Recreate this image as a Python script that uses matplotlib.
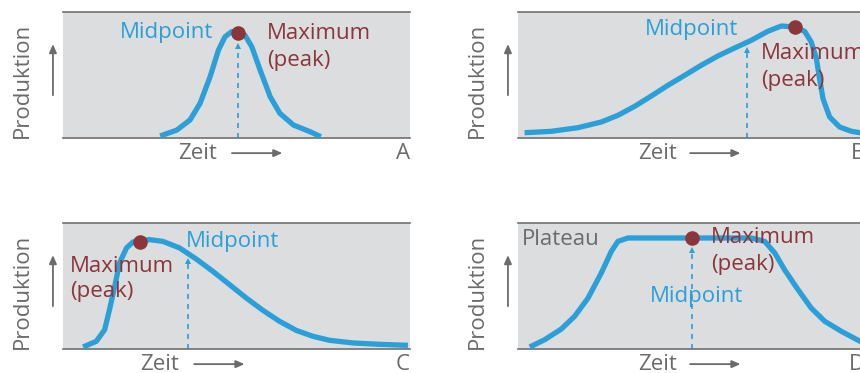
import matplotlib
matplotlib.use("Agg")
import matplotlib.pyplot as plt

plt.rcParams["font.family"] = ["Open Sans", "DejaVu Sans"]

BLUE = "#2a9fd8"
RED = "#8a363b"
GRAY = "#6b6b6b"
BG = "#dcdddf"

# curves (Zeit 0..100, Produktion 0..100)
a_x = [28.0, 32.8, 36.6, 39.5, 42.4, 44.8, 46.7, 48.6, 50.5, 52.4, 54.4, 56.8,
       59.7, 62.5, 66.4, 71.2, 74.3]
a_y = [1.6, 6.3, 14.3, 27.5, 48.7, 69.8, 80.4, 84.4, 84.2, 81.7, 72.5, 54.0,
       32.8, 19.6, 10.3, 5.0, 1.0]

b_x = [1.9, 9.6, 17.3, 24.0, 28.8, 33.6, 38.4, 43.2, 48.0, 52.8, 57.6, 62.4,
       67.2, 72.0, 75.9, 79.7, 82.6, 84.5, 86.0, 86.9, 87.9, 89.8, 92.7, 96.1,
       98.6, 100]
b_y = [4.2, 5.3, 8.2, 12.7, 18.0, 25.1, 33.3, 41.8, 49.7, 57.7, 65.1, 71.4,
       77.5, 84.7, 88.9, 88.1, 84.7, 76.2, 63.0, 47.1, 31.2, 16.7, 8.7, 5.3,
       4.2, 4.2]

c_x = [5.8, 9.6, 12.0, 13.4, 14.9, 16.3, 18.3, 20.2, 22.1, 25.0, 28.8, 33.6,
       38.4, 43.2, 48.0, 52.8, 57.6, 62.4, 67.2, 72.0, 76.8, 83.6, 91.3, 99.4]
c_y = [1.6, 6.1, 15.3, 31.2, 49.7, 68.3, 80.2, 85.0, 86.0, 86.8, 85.4, 80.2,
       71.4, 61.6, 51.1, 40.5, 30.7, 22.0, 14.8, 10.1, 6.9, 4.8, 3.7, 2.9]

d_x = [3.4, 7.7, 12.5, 16.3, 20.2, 24.0, 26.9, 28.8, 31.7, 38.4, 50.0, 67.2,
       71.1, 74.0, 76.8, 80.7, 84.5, 88.4, 93.2, 98.6, 100]
d_y = [1.6, 7.4, 15.9, 25.9, 40.5, 60.3, 77.5, 85.4, 88.1, 88.1, 88.1, 88.1,
       85.4, 76.2, 63.0, 47.1, 32.5, 22.0, 14.0, 6.1, 5.3]

# maximum (peak) points and midpoint arrows (x, tip height)
peaks = {"A": (50.5, 83.1), "B": (79.7, 88.1), "C": (22.1, 84.7), "D": (50.0, 88.1)}
midpoints = {"A": (50.5, 74.5), "B": (66.1, 71.0), "C": (36.0, 71.0), "D": (50.1, 80.0)}

W, H = 860, 373
fig = plt.figure(figsize=(W / 100, H / 100), dpi=100)


def box(left, top):
    return [left / W, 1 - (top + 126) / H, 347 / W, 126 / H]


def panel(rect, xs, ys, letter, zeit_x, arrow_x0):
    ax = fig.add_axes(rect)
    ax.set_facecolor(BG)
    ax.set_xlim(0, 100)
    ax.set_ylim(0, 100)
    ax.set_xticks([])
    ax.set_yticks([])
    for s in ("left", "right"):
        ax.spines[s].set_visible(False)
    for s in ("top", "bottom"):
        ax.spines[s].set_color("#707070")
        ax.spines[s].set_linewidth(1.2)

    ax.plot(xs, ys, color=BLUE, lw=3.8, solid_capstyle="butt",
            solid_joinstyle="round", zorder=3)

    mx, my = midpoints[letter]
    ax.plot([mx, mx], [0, my - 2.5], color=BLUE, lw=1.2, ls=(0, (3, 3)), zorder=2)
    ax.plot([mx], [my - 1.5], marker="^", color=BLUE, ms=5, mew=0, zorder=2)

    px, py = peaks[letter]
    ax.plot([px], [py], "o", color=RED, ms=10.5, mew=0, zorder=4)

    kw = dict(transform=ax.transAxes, color=GRAY, fontsize=16, clip_on=False)
    ax.text(-0.117, 0.0, "Produktion", rotation=90, ha="center", va="bottom", **kw)
    ax.annotate("", xy=(-0.029, 0.745), xytext=(-0.029, 0.34),
                xycoords="axes fraction",
                arrowprops=dict(arrowstyle="-|>,head_length=0.5,head_width=0.22",
                                color=GRAY, lw=1.3, shrinkA=0, shrinkB=0))
    ax.text(zeit_x, -0.12, "Zeit", ha="left", va="center", **kw)
    ax.annotate("", xy=(arrow_x0 + 0.145, -0.12), xytext=(arrow_x0, -0.12),
                xycoords="axes fraction",
                arrowprops=dict(arrowstyle="-|>,head_length=0.5,head_width=0.22",
                                color=GRAY, lw=1.3, shrinkA=0, shrinkB=0))
    ax.text(1.0, -0.12, letter, ha="right", va="center", **kw)
    return ax


tk = dict(fontsize=16, va="center", zorder=5)

ax = panel(box(63, 12), a_x, a_y, "A", 0.331, 0.487)
ax.text(43.2, 84.0, "Midpoint", color=BLUE, ha="right", **tk)
ax.text(58.8, 83.3, "Maximum", color=RED, ha="left", **tk)
ax.text(58.8, 61.5, "(peak)", color=RED, ha="left", **tk)

ax = panel(box(518, 12), b_x, b_y, "B", 0.346, 0.496)
ax.text(63.4, 86.2, "Midpoint", color=BLUE, ha="right", **tk)
ax.text(70.1, 66.9, "Maximum", color=RED, ha="left", **tk)
ax.text(70.1, 45.5, "(peak)", color=RED, ha="left", **tk)

ax = panel(box(63, 223), c_x, c_y, "C", 0.222, 0.378)
ax.text(35.5, 85.4, "Midpoint", color=BLUE, ha="left", **tk)
ax.text(2.1, 65.6, "Maximum", color=RED, ha="left", **tk)
ax.text(2.1, 45.5, "(peak)", color=RED, ha="left", **tk)

ax = panel(box(518, 223), d_x, d_y, "D", 0.346, 0.496)
ax.text(1.0, 86.8, "Plateau", color=GRAY, ha="left", **tk)
ax.text(55.7, 88.1, "Maximum", color=RED, ha="left", **tk)
ax.text(55.7, 67.0, "(peak)", color=RED, ha="left", **tk)
ax.text(37.9, 41.8, "Midpoint", color=BLUE, ha="left", **tk)

fig.savefig("out.png", dpi=100, facecolor="white")
